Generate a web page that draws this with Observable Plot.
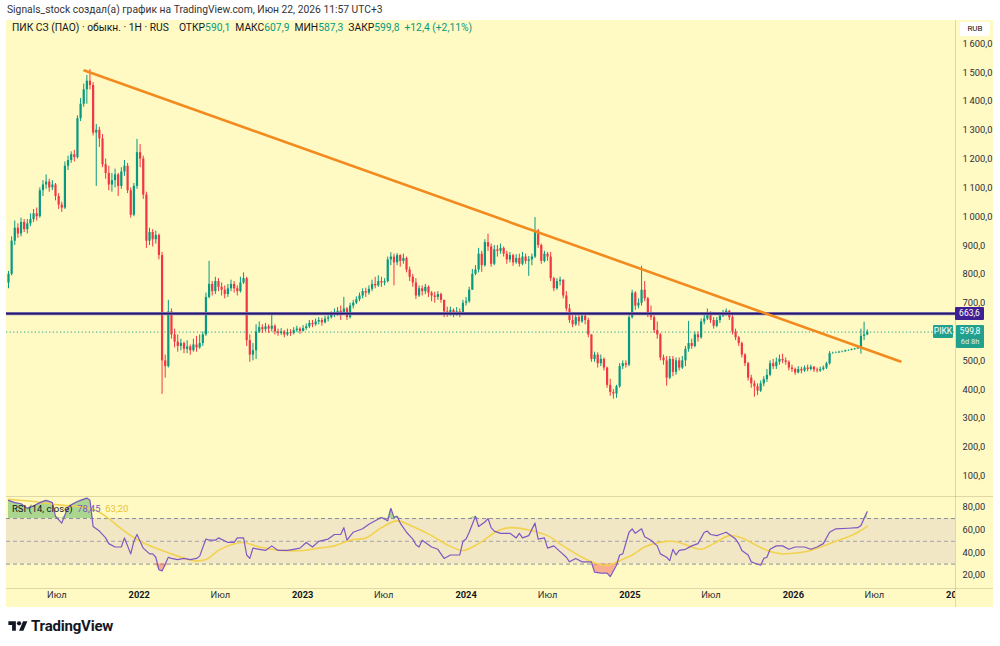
<!DOCTYPE html>
<html><head><meta charset="utf-8">
<script src="https://cdn.jsdelivr.net/npm/d3@7"></script>
<script src="https://cdn.jsdelivr.net/npm/@observablehq/plot@0.6"></script>
<style>
body{margin:0;background:#fff;font-family:Roboto,"DejaVu Sans",sans-serif;}
#root{position:relative;width:1000px;height:646px;overflow:hidden;background:#fff}
.abs{position:absolute}
#bg{left:6px;top:20px;width:987px;height:587px;background:#fff9c4}
#p1{left:6px;top:20px}
#p2{left:6px;top:497px}
.sep{background:rgba(110,100,60,0.22)}
.txt{font-size:10.3px;color:#131722;white-space:nowrap}
.g{color:#089981}
.gap{display:inline-block;width:5px}
.box{color:#fff;font-size:8.5px;text-align:center;line-height:13px;border-radius:1px}
</style></head>
<body><div id="root">
<div class="abs txt" style="left:7px;top:3px;color:#333">Signals_stock создал(а) график на TradingView.com, Июн 22, 2026 11:57 UTC+3</div>
<div id="bg" class="abs"></div>
<div id="p1" class="abs"></div>
<div id="p2" class="abs"></div>
<div class="abs sep" style="left:6px;top:496px;width:987px;height:1px"></div>
<div class="abs sep" style="left:6px;top:588px;width:987px;height:1px"></div>
<div class="abs" style="left:955px;top:589px;width:38px;height:18px;background:#fff9c4"></div>
<div class="abs sep" style="left:955px;top:20px;width:1px;height:587px"></div>
<div id="hdr" class="abs txt" style="left:12px;top:21px"></div>
<div id="rsilab" class="abs txt" style="left:12px;top:503px;font-size:9.5px"></div>
<div class="abs" style="left:960px;top:22px;width:30px;height:14px;background:#fff;border-radius:2px;font-size:8px;color:#131722;text-align:center;line-height:14px">RUB</div>
<div id="labels"></div>
<div class="abs" style="left:8px;top:617px;display:flex;align-items:center">
<svg width="20" height="15" viewBox="0 0 36 28"><path d="M14 22H7V11H0V4h14v18zM28 22h-8l7.5-18h8L28 22z" fill="#131722"/><circle cx="20" cy="8" r="4" fill="#131722"/></svg>
<span style="font-size:15px;font-weight:700;color:#131722;margin-left:3px;letter-spacing:-0.2px">TradingView</span>
</div>
</div>
<script>
// ---- data: weekly candles, first week starting 2021-03-15 ----
const startDate = Date.UTC(2021, 2, 15);
const firstOpen = 770;
const closes = [
 800,915,960,940,980,955,975,990,1010,1000,
 1090,1110,1120,1100,1110,1070,1040,1030,1175,1195,
 1215,1205,1340,1390,1440,1470,1455,1290,1300,1270,
 1180,1150,1110,1125,1145,1105,1155,1175,1090,1005,
 1105,1222,1200,1075,915,945,920,935,865,500,
 480,670,590,565,550,560,540,548,535,555,
 545,560,590,720,765,740,775,755,745,730,
 750,765,750,740,770,785,570,520,535,600,
 615,608,618,610,620,600,595,600,590,598,
 595,605,610,602,612,618,630,625,635,640,
 632,645,650,660,668,672,665,680,650,690,
 700,712,725,740,735,748,765,760,775,770,
 775,850,860,840,865,845,855,815,790,770,
 725,750,740,755,735,725,720,730,710,670,
 665,675,660,670,665,700,705,745,800,815,
 870,830,910,895,835,885,880,890,870,850,
 865,840,855,835,860,845,850,860,950,900,
 845,870,860,785,750,775,780,725,680,640,
 625,650,635,655,640,590,505,520,490,505,
 475,415,390,385,410,480,490,485,650,735,
 690,700,745,715,660,650,605,590,510,500,
 440,505,460,500,475,500,540,560,550,590,
 580,635,645,668,640,620,640,655,665,672,
 650,600,580,560,520,490,440,420,410,395,
 420,435,450,490,480,495,505,500,495,475,
 470,458,470,465,475,470,478,468,465,470,
 475,490,525,526,527,530,531,535,536,539,
 541,545,585,590,599.8];
const highs = [
 810,930,985,975,995,990,990,1010,1025,1030,
 1100,1125,1145,1130,1125,1115,1080,1050,1190,1210,
 1225,1230,1350,1410,1460,1490,1510,1465,1320,1310,
 1285,1200,1175,1150,1165,1150,1170,1195,1185,1100,
 1115,1268,1250,1210,1085,960,955,950,940,876,
 520,710,680,610,590,575,565,570,555,575,
 585,590,600,735,845,775,790,785,770,760,
 765,780,775,760,790,805,790,590,560,625,
 635,625,630,625,660,625,610,612,605,610,
 608,615,620,615,622,628,640,640,645,650,
 648,655,660,670,680,685,690,720,685,700,
 710,722,735,750,752,760,780,790,795,790,
 785,860,875,870,872,868,870,860,825,800,
 785,760,760,765,760,740,738,740,735,710,
 686,686,680,685,680,710,720,755,817,830,
 890,880,920,939,905,900,900,905,895,880,
 876,870,868,870,876,870,862,870,997,956,
 905,880,876,876,790,785,790,780,740,695,
 668,665,660,668,660,648,590,530,528,520,
 510,478,436,400,415,490,500,500,660,745,
 740,715,828,775,720,690,665,635,595,520,
 515,515,515,510,510,515,550,637,575,600,
 600,645,660,680,670,650,650,665,675,680,
 675,660,610,585,565,525,495,450,430,420,
 430,445,470,500,505,510,520,523,510,500,
 485,475,480,478,482,485,485,480,475,478,
 482,495,532,530,531,533,534,537,538,541,
 543,547,610,634,607.9];
const lows = [
 750,795,900,925,930,945,940,965,980,985,
 995,1070,1095,1085,1090,1055,1025,1015,1025,1160,
 1185,1190,1200,1330,1380,1390,1440,1280,1105,1240,
 1170,1130,1090,1085,1100,1070,1095,1140,1080,995,
 1000,1095,1170,1060,890,900,895,905,850,384,
 440,475,575,545,530,535,525,525,520,530,
 530,540,550,585,715,725,730,740,725,715,
 720,740,735,725,735,765,550,495,500,505,
 595,595,600,595,600,590,585,588,580,585,
 585,590,598,592,600,605,612,615,620,625,
 620,628,635,645,650,655,640,660,640,645,
 680,695,705,715,720,728,740,750,755,755,
 760,770,830,760,830,825,835,805,775,755,
 713,720,725,730,720,705,700,710,700,650,
 651,655,650,655,650,660,690,700,745,795,
 805,807,825,880,825,830,860,870,860,835,
 840,828,835,825,830,835,793,830,855,890,
 835,840,845,775,740,745,760,715,670,630,
 615,620,620,630,625,580,495,495,475,480,
 465,405,377,367,370,405,470,475,480,645,
 675,680,690,705,650,640,595,575,500,485,
 412,435,445,450,465,470,480,530,540,545,
 565,575,625,640,630,610,615,630,650,655,
 640,590,570,550,510,480,430,405,374,380,
 390,410,425,445,470,470,485,490,485,465,
 460,450,455,455,460,462,465,460,458,460,
 465,470,485,523,525,527,528,531,533,535,
 537,540,523,570,587.3];

// RSI(14) readings: [week index, value]
const rsiPoints = [[0,86],[2,84],[4,83],[6,79],[8,81],[10,84],[12,86],[14,84],[15,72],[17,66],[18,73],[19,80],[20,82],[22,85],[23,86],[25,88],[26,86],[27,63],[28,61],[29,59],[31,53],[32,48],[34,45],[36,45],[37,53],[39,39],[40,50],[41,56],[43,44],[45,39],[46,39],[47,36],[48,25],[49,24],[51,36],[52,35],[54,34],[56,35],[58,34],[60,35],[61,37],[63,52],[64,51],[66,51],[67,53],[70,49],[72,49],[73,53],[75,53],[76,38],[77,35],[78,44],[80,43],[82,42],[84,46],[86,42],[89,42],[91,43],[93,44],[95,49],[97,45],[99,50],[102,52],[104,56],[106,56],[107,62],[108,51],[110,58],[113,61],[115,65],[117,68],[119,71],[121,68],[122,79],[123,71],[124,72],[125,66],[127,58],[129,52],[130,47],[131,45],[132,51],[135,45],[137,43],[139,35],[141,38],[144,38],[145,50],[146,52],[147,58],[149,72],[150,63],[152,67],[153,70],[154,62],[155,59],[157,57],[160,57],[162,53],[163,57],[164,53],[166,55],[168,66],[169,52],[171,53],[172,44],[174,46],[176,41],[178,36],[179,32],[181,35],[183,32],[186,32],[187,23],[189,22],[191,22],[192,19],[194,29],[195,38],[196,39],[198,58],[199,61],[200,57],[202,61],[203,54],[205,51],[207,46],[208,39],[210,36],[211,33],[212,43],[213,38],[214,42],[216,43],[218,46],[220,48],[222,58],[223,59],[224,56],[226,55],[227,56],[229,58],[230,56],[232,52],[233,48],[234,42],[236,38],[237,32],[238,31],[240,29],[241,35],[242,36],[243,43],[245,46],[247,46],[249,43],[251,45],[254,45],[256,43],[258,45],[260,48],[262,58],[264,61],[268,61.5],[271,62],[272,64],[273,70],[274,76]];
// RSI-based MA readings
const maPoints = [[0,87],[8,85],[16,82],[24,80],[28,77],[32,70],[36,61],[42,50],[48,43],[54,37],[59,33],[63,34],[67,42],[71,47],[75,49],[80,45],[87,42],[94,42],[99,44],[104,46],[109,51],[114,53],[119,62],[124,68],[129,63],[135,55],[140,47],[145,42],[150,48],[156,59],[160,62],[166,60],[172,55],[177,46],[183,36],[187,31],[191,29],[195,33],[199,38],[203,45],[206,48],[210,50],[214,49],[218,45],[221,43],[225,48],[230,55],[234,53],[239,46],[243,41],[247,39],[252,40],[256,42],[260,46],[264,50],[268,54],[271,58],[274,63.2]];

const levelPrice = 663.6;
const lastPrice = 599.8;
const trendWeeks = [24.25, 284.6];
const trendPrices = [1507, 498];
// 600,0 is hidden under the last-price label in the reference
const priceTicks = [100,200,300,400,500,700,800,900,1000,1100,1200,1300,1400,1500,1600];
const priceTickLabels = ["100,0","200,0","300,0","400,0","500,0","700,0","800,0","900,0","1\u2009000,0","1\u2009100,0","1\u2009200,0","1\u2009300,0","1\u2009400,0","1\u2009500,0","1\u2009600,0"];
const rsiTicks = [20,40,60,80];
const rsiTickLabels = ["20,00","40,00","60,00","80,00"];
const monthTicks = [Date.UTC(2021,6,1),Date.UTC(2022,6,1),Date.UTC(2023,6,1),Date.UTC(2024,6,1),Date.UTC(2025,6,1),Date.UTC(2026,6,1)];
const monthLabel = "Июл";
const yearTicks = [Date.UTC(2022,0,1),Date.UTC(2023,0,1),Date.UTC(2024,0,1),Date.UTC(2025,0,1),Date.UTC(2026,0,1),Date.UTC(2027,0,1)];
const yearLabels = ["2022","2023","2024","2025","2026","2027"];

// ---- build ----
const WEEK = 7*864e5;
const wd = i => new Date(startDate + i*WEEK);
const xDomain = [wd(-0.638), wd(302.17)];
const candles = closes.map((c,i)=>({date: wd(i), open: i ? closes[i-1] : firstOpen, close: c, high: highs[i], low: lows[i]}));
const isUp = d => d.close >= d.open;
const GREEN = "#089981", RED = "#f23645";
const trend = trendWeeks.map((w,i)=>({date: wd(w), p: trendPrices[i]}));
const rsi = rsiPoints.map(([w,v])=>({date: wd(w), v}));
const ma = maPoints.map(([w,v])=>({date: wd(w), v}));
const font = {background:"transparent", fontFamily:"Roboto, 'DejaVu Sans', sans-serif", fontSize:"9.3px", color:"#2a2e39"};
const pLab = new Map(priceTicks.map((t,i)=>[t, priceTickLabels[i]]));
const rLab = new Map(rsiTicks.map((t,i)=>[t, rsiTickLabels[i]]));

const plot1 = Plot.plot({
  width: 987, height: 477, marginLeft: 0, marginRight: 38, marginTop: 0, marginBottom: 0,
  style: font,
  x: {type: "utc", domain: xDomain, axis: null},
  y: {domain: [26.0, 1680.5], axis: null},
  marks: [
    Plot.ruleY([lastPrice], {stroke: "#22a08e", strokeWidth: 1, strokeDasharray: "1.2,2.4"}),
    Plot.ruleX(candles, {filter: isUp, x: "date", y1: "low", y2: "high", stroke: GREEN, strokeWidth: 1}),
    Plot.ruleX(candles, {filter: d => !isUp(d), x: "date", y1: "low", y2: "high", stroke: RED, strokeWidth: 1}),
    Plot.ruleX(candles, {filter: isUp, x: "date", y1: "open", y2: "close", stroke: GREEN, strokeWidth: 2.2}),
    Plot.ruleX(candles, {filter: d => !isUp(d), x: "date", y1: "open", y2: "close", stroke: RED, strokeWidth: 2.2}),
    Plot.ruleY([levelPrice], {stroke: "#8c7fc0", strokeWidth: 3.2}),
    Plot.ruleY([levelPrice], {stroke: "#24176a", strokeWidth: 1.8}),
    Plot.line(trend, {x: "date", y: "p", stroke: "#f28a1e", strokeWidth: 2.6}),
    Plot.axisY(priceTicks, {anchor: "right", label: null, tickSize: 0, tickPadding: 7, tickFormat: d => pLab.get(d), fill: "#2a2e39"})
  ]
});
document.getElementById("p1").appendChild(plot1);

const plot2 = Plot.plot({
  width: 987, height: 110, marginLeft: 0, marginRight: 38, marginTop: 0, marginBottom: 19,
  style: font,
  x: {type: "utc", domain: xDomain, axis: null},
  y: {domain: [8.56, 88.5], axis: null},
  marks: [
    Plot.rect([{a: xDomain[0], b: xDomain[1]}], {x1: "a", x2: "b", y1: 30, y2: 70, fill: "#f1e7c5"}),
    Plot.ruleY([70, 30], {stroke: "#8a8d96", strokeDasharray: "4,3"}),
    Plot.ruleY([50], {stroke: "#a3a5ac", strokeDasharray: "4,3"}),
    Plot.areaY(rsi, {x: "date", y1: 70, y2: d => Math.max(d.v, 70), fill: "#55b35a", fillOpacity: 0.5}),
    Plot.areaY(rsi, {x: "date", y1: 30, y2: d => Math.min(d.v, 30), fill: "#ef5350", fillOpacity: 0.45}),
    Plot.line(ma, {x: "date", y: "v", stroke: "#f2d250", strokeWidth: 1.6, curve: "catmull-rom"}),
    Plot.line(rsi, {x: "date", y: "v", stroke: "#7e57c2", strokeWidth: 1.2}),
    Plot.axisY(rsiTicks, {anchor: "right", label: null, tickSize: 0, tickPadding: 7, tickFormat: d => rLab.get(d), fill: "#2a2e39"}),
    Plot.text(monthTicks, {x: d => new Date(d), text: () => monthLabel, frameAnchor: "bottom", dy: 9.5, fill: "#2a2e39"}),
    Plot.text(yearTicks, {x: d => new Date(d), text: (d, i) => yearLabels[i], frameAnchor: "bottom", dy: 9.5, fill: "#131722", fontWeight: "bold"})
  ]
});
document.getElementById("p2").appendChild(plot2);

// header & labels
const gp = '<span class="gap"></span>';
document.getElementById("hdr").innerHTML =
  'ПИК СЗ (ПАО) · обыкн. · 1H · RUS' + gp + gp + 'ОТКР<span class="g">590,1</span>' + gp + 'МАКС<span class="g">607,9</span>' + gp + 'МИН<span class="g">587,3</span>' + gp + 'ЗАКР<span class="g">599,8</span>' + gp + '<span class="g">+12,4 (+2,11%)</span>';
document.getElementById("rsilab").innerHTML =
  'RSI (14, close)&nbsp;&nbsp;<span style="color:#7e57c2">78,45</span>&nbsp;&nbsp;<span style="color:#e8c53a">63,20</span>';

const ys = plot1.scale("y");
const yl = ys.apply(levelPrice) + 20;
const yp = ys.apply(lastPrice) + 20;
const L = document.getElementById("labels");
L.innerHTML =
  `<div class="abs box" style="left:955px;top:${yl-6.5}px;width:29px;height:13px;background:#3f1f94">663,6</div>` +
  `<div class="abs box" style="left:933px;top:${yp-6.5}px;width:20px;height:13px;background:#22a08e">PIKK</div>` +
  `<div class="abs" style="left:956px;top:${yp-6.5}px;width:28px;height:23px;background:#22a08e;border-radius:1px;color:#fff;text-align:center;font-size:8.5px">` +
  `<div style="height:12px;line-height:13px">599,8</div><div style="height:11px;line-height:10px;font-size:7.5px;opacity:.85">6d 8h</div></div>`;
</script>
</body></html>
